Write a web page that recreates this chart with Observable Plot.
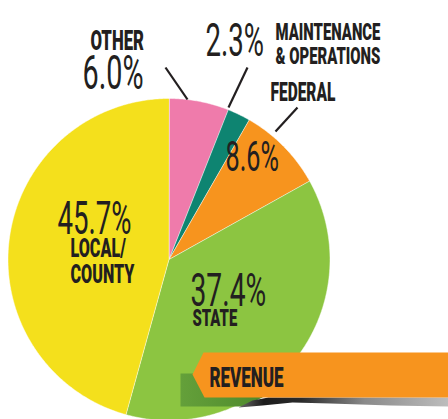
<!DOCTYPE html>
<html><head><meta charset="utf-8">
<script src="https://cdn.jsdelivr.net/npm/d3@7"></script>
<script src="https://cdn.jsdelivr.net/npm/@observablehq/plot@0.6"></script>
<style>body{margin:0;background:#fff} svg{display:block}</style>
</head><body><div id="chart"></div>
<script>
// ---- data ----
const categories = ["Other", "Maintenance & Operations", "Federal", "State", "Local/County"];
const shares = [6.0, 2.3, 8.6, 37.4, 45.7];
const labelNames = ["OTHER", "MAINTENANCE\n& OPERATIONS", "FEDERAL", "STATE", "LOCAL/\nCOUNTY"];
const chartTitle = "REVENUE";

// ---- styles & layout (not data) ----
const sliceColors = ["#ef7bab", "#0e8471", "#f7941e", "#8cc541", "#f4e01c"];
const ink = "#231f20";
const CX = 168.5, CY = 259, R = 161;
const pctLayout = [
  {x: 82, y: 88, size: 48}, {x: 205, y: 55, size: 46}, {x: 225, y: 170, size: 42},
  {x: 190, y: 305, size: 47}, {x: 57, y: 233, size: 46}
];
const nameLayout = [
  {x: 90, y: 49, size: 27}, {x: 275, y: 63, size: 24}, {x: 270, y: 100, size: 25},
  {x: 192, y: 325, size: 24}, {x: 70, y: 282, size: 26}
];
const leaderLayout = [
  {x1: 187, y1: 99, x2: 165, y2: 67}, {x1: 228, y1: 107, x2: 247, y2: 67},
  {x1: 275, y1: 131, x2: 297, y2: 107}
];

// ---- derived tables ----
const rows = categories.map((c, i) => ({cat: c, share: shares[i]}));
const arcs = d3.pie().sort(null).value(d => d.share)(rows);
const piePts = [];
arcs.forEach(a => {
  const n = Math.max(2, Math.ceil((a.endAngle - a.startAngle) / (Math.PI / 360)));
  piePts.push({cat: a.data.cat, x: CX, y: CY});
  for (let k = 0; k <= n; k++) {
    const t = a.startAngle + (a.endAngle - a.startAngle) * k / n;
    piePts.push({cat: a.data.cat, x: CX + R * Math.sin(t), y: CY - R * Math.cos(t)});
  }
});
const pctLabels = rows.map((r, i) => ({text: r.share.toFixed(1) + "%", ...pctLayout[i]}));
const nameLabels = rows.map((r, i) => ({text: labelNames[i], ...nameLayout[i]}));
const leaders = leaderLayout.map((l, i) => ({cat: categories[i], ...l}));

const poly = (id, pts) => pts.map(([x, y]) => ({id, x, y}));
const banner = poly("banner", [[203, 352], [448, 352], [448, 397], [204, 397], [192, 374]]);
const fold = poly("fold", [[180, 373], [262, 373], [262, 397], [243, 406], [180, 406]]);
const shadow = poly("shadow", [[238, 407], [252, 400], [268, 397], [448, 397], [448, 406], [390, 405], [330, 403], [292, 402], [262, 405]]);

const defsMark = () => {
  const defs = d3.create("svg:defs");
  const g = defs.append("linearGradient").attr("id", "shadowGrad")
    .attr("gradientUnits", "userSpaceOnUse").attr("x1", 238).attr("x2", 448).attr("y1", 0).attr("y2", 0);
  [[0, "#6a6a6a"], [0.12, "#1c1c1c"], [0.3, "#2a2a2a"], [0.6, "#8a8a8a"], [1, "#bdbdbd"]]
    .forEach(([o, c]) => g.append("stop").attr("offset", o).attr("stop-color", c));
  const f = defs.append("linearGradient").attr("id", "foldGrad")
    .attr("gradientUnits", "userSpaceOnUse").attr("x1", 180).attr("x2", 262).attr("y1", 0).attr("y2", 0);
  [[0, "#64a03a"], [1, "#4f8a2d"]].forEach(([o, c]) => f.append("stop").attr("offset", o).attr("stop-color", c));
  return defs.node();
};

const svg = Plot.plot({
  width: 448, height: 419, margin: 0,
  x: {domain: [0, 448], range: [0, 448], axis: null},
  y: {domain: [0, 419], range: [0, 419], axis: null},
  color: {domain: categories, range: sliceColors},
  style: {background: "#fff", overflow: "hidden"},
  marks: [
    defsMark,
    Plot.line(piePts, {x: "x", y: "y", z: "cat", fill: "cat", stroke: "#fff", strokeWidth: 0.6, strokeOpacity: 0.8, curve: "linear-closed"}),
    Plot.line(fold, {x: "x", y: "y", z: "id", fill: "url(#foldGrad)", stroke: "none", curve: "linear-closed"}),
    Plot.line(shadow, {x: "x", y: "y", z: "id", fill: "url(#shadowGrad)", stroke: "none", curve: "linear-closed"}),
    Plot.line(banner, {x: "x", y: "y", z: "id", fill: "#f7941e", stroke: "none", curve: "linear-closed"}),
    Plot.link(leaders, {x1: "x1", y1: "y1", x2: "x2", y2: "y2", stroke: ink, strokeWidth: 2.2}),
    Plot.text(pctLabels, {x: "x", y: "y", text: "text", fontSize: "size", textAnchor: "start", lineAnchor: "bottom",
      fill: ink, fontFamily: "Roboto", fontWeight: 400}),
    Plot.text(nameLabels, {x: "x", y: "y", text: "text", fontSize: "size", textAnchor: "start", lineAnchor: "bottom",
      lineHeight: 0.98, fill: ink, fontFamily: "Roboto", fontWeight: 900}),
    Plot.text([chartTitle], {x: () => 209, y: () => 386, text: d => d, fontSize: 27, textAnchor: "start", lineAnchor: "bottom",
      fill: ink, fontFamily: "Roboto", fontWeight: 900})
  ]
});

const squeezeFactors = [0.6, 0.62, 0.63];
d3.select(svg).selectAll('g[aria-label="text"]').each(function (_, gi) {
  const s = squeezeFactors[gi] ?? 1;
  d3.select(this).selectAll("text").each(function () {
    const t = this.getAttribute("transform") || "";
    this.setAttribute("transform", t + ` scale(${s},1)`);
  });
});

document.getElementById("chart").appendChild(svg);
</script>
</body></html>
